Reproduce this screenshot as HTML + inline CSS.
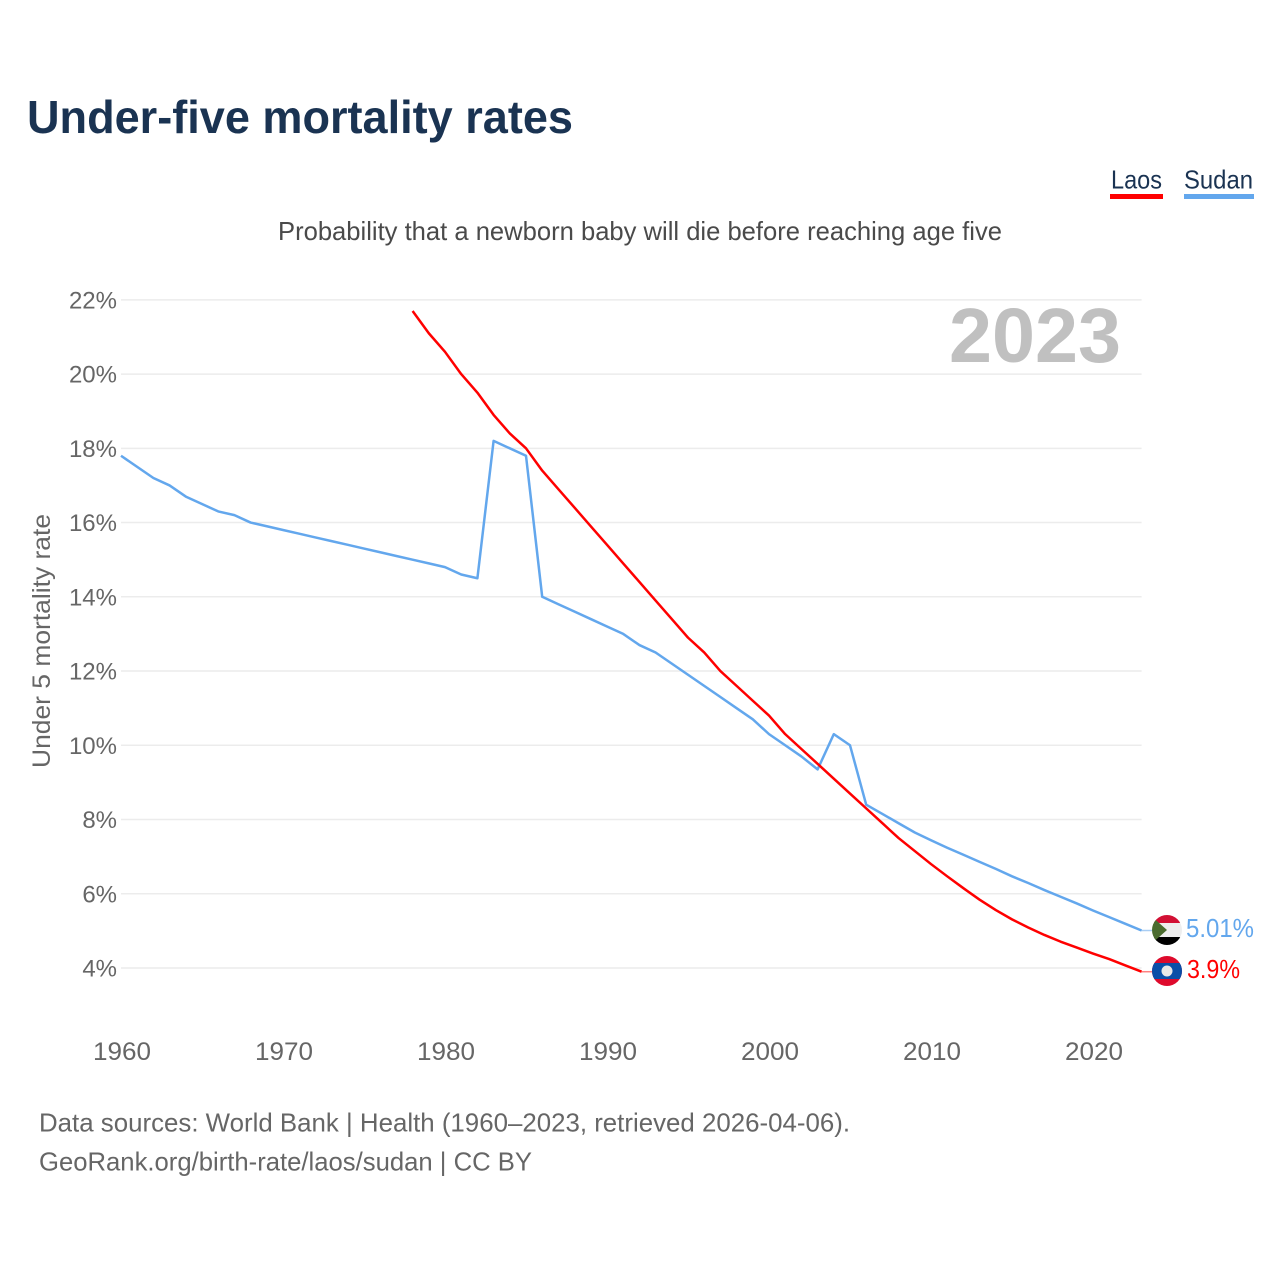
<!DOCTYPE html>
<html lang="en">
<head>
<meta charset="utf-8">
<title>Under-five mortality rates</title>
<style>
html,body{margin:0;padding:0;background:#fff;width:1280px;height:1280px;overflow:hidden}
svg{display:block}
text{font-family:"Liberation Sans",sans-serif}
</style>
</head>
<body>
<svg id="chart" xmlns="http://www.w3.org/2000/svg" width="1280" height="1280" viewBox="0 0 1280 1280">
<defs>
<clipPath id="flag-clip-sudan"><circle cx="1167" cy="930" r="15"/></clipPath>
<clipPath id="flag-clip-laos"><circle cx="1167" cy="971" r="15"/></clipPath>
</defs>
<rect x="0" y="0" width="1280" height="1280" fill="#fff"/>
<text x="27" y="133" font-size="46" font-weight="700" fill="#1a3352" textLength="546" lengthAdjust="spacingAndGlyphs">Under-five mortality rates</text>
<g>
<g>
<text x="1111" y="188.5" font-size="26" fill="#1a3352" textLength="51" lengthAdjust="spacingAndGlyphs">Laos</text>
<rect x="1110" y="194" width="53" height="5" fill="#ff0000"/>
</g>
<g>
<text x="1184" y="188.5" font-size="26" fill="#1a3352" textLength="69" lengthAdjust="spacingAndGlyphs">Sudan</text>
<rect x="1184" y="194" width="70" height="5" fill="#63a7ed"/>
</g>
</g>
<text x="278" y="240" font-size="26" fill="#4a4a4a" textLength="724" lengthAdjust="spacingAndGlyphs">Probability that a newborn baby will die before reaching age five</text>
<g id="grid"></g>
<g id="y-axis"></g>
<g id="x-axis"></g>
<text x="1121" y="362" text-anchor="end" font-size="77" font-weight="700" fill="#c0c0c0" textLength="172" lengthAdjust="spacingAndGlyphs">2023</text>
<text transform="translate(50,641) rotate(-90)" text-anchor="middle" font-size="25" fill="#666" textLength="254" lengthAdjust="spacingAndGlyphs">Under 5 mortality rate</text>
<g id="series"></g>
<g clip-path="url(#flag-clip-sudan)">
<rect x="1152" y="915" width="30" height="8" fill="#d21034"/>
<rect x="1152" y="923" width="30" height="14" fill="#eeeeee"/>
<rect x="1152" y="937" width="30" height="8" fill="#000"/>
<polygon points="1150,915 1167,930 1150,945" fill="#4a6b2e"/>
</g>
<g clip-path="url(#flag-clip-laos)">
<rect x="1152" y="956" width="30" height="30" fill="#de0a2c"/>
<rect x="1152" y="963" width="30" height="16" fill="#0a4fa8"/>
<circle cx="1167" cy="971" r="5.5" fill="#e8e8e8"/>
</g>
<text x="1186" y="937" font-size="26" fill="#63a7ed" textLength="68" lengthAdjust="spacingAndGlyphs">5.01%</text>
<text x="1187" y="978" font-size="26" fill="#ff0000" textLength="53" lengthAdjust="spacingAndGlyphs">3.9%</text>
<text x="39" y="1131.5" font-size="26" fill="#666" textLength="811" lengthAdjust="spacingAndGlyphs">Data sources: World Bank | Health (1960–2023, retrieved 2026-04-06).</text>
<text x="39" y="1170.5" font-size="26" fill="#666" textLength="493" lengthAdjust="spacingAndGlyphs">GeoRank.org/birth-rate/laos/sudan | CC BY</text>
</svg>
<script>
const yTicks = [22, 20, 18, 16, 14, 12, 10, 8, 6, 4];
const xTicks = [1960, 1970, 1980, 1990, 2000, 2010, 2020];
const sudanStartYear = 1960;
const sudanValues = [17.8,17.5,17.2,17.0,16.7,16.5,16.3,16.2,16.0,15.9,15.8,15.7,15.6,15.5,15.4,15.3,15.2,15.1,15.0,14.9,14.8,14.6,14.5,18.2,18.0,17.8,14.0,13.8,13.6,13.4,13.2,13.0,12.7,12.5,12.2,11.9,11.6,11.3,11.0,10.7,10.3,10.0,9.7,9.35,10.3,10.0,8.4,8.15,7.9,7.65,7.44,7.24,7.05,6.86,6.67,6.47,6.29,6.1,5.92,5.74,5.55,5.37,5.19,5.01];
const laosStartYear = 1978;
const laosValues = [21.7,21.1,20.6,20.0,19.5,18.9,18.4,18.0,17.4,16.9,16.4,15.9,15.4,14.9,14.4,13.9,13.4,12.9,12.5,12.0,11.6,11.2,10.8,10.3,9.9,9.5,9.1,8.7,8.3,7.9,7.5,7.15,6.8,6.47,6.15,5.84,5.56,5.31,5.09,4.89,4.71,4.55,4.39,4.24,4.07,3.9];

const NS = 'http://www.w3.org/2000/svg';
function xScale(year) { return 121 + (year - 1960) * 16.2; }
function yScale(value) { return 968 - (value - 4) * 37.12; }
const gridGroup = document.getElementById('grid');
const yAxisGroup = document.getElementById('y-axis');
const xAxisGroup = document.getElementById('x-axis');
const seriesGroup = document.getElementById('series');

yTicks.forEach(function (v) {
  const line = document.createElementNS(NS, 'line');
  line.setAttribute('x1', 121);
  line.setAttribute('x2', xScale(2023));
  line.setAttribute('y1', yScale(v));
  line.setAttribute('y2', yScale(v));
  line.setAttribute('stroke', '#ececec');
  line.setAttribute('stroke-width', 1.5);
  
  
  gridGroup.appendChild(line);
  const label = document.createElementNS(NS, 'text');
  label.setAttribute('x', 117);
  label.setAttribute('y', yScale(v) + 8.5);
  label.setAttribute('text-anchor', 'end');
  label.setAttribute('font-size', 24);
  label.setAttribute('fill', '#666');
  
  
  label.textContent = v + '%';
  yAxisGroup.appendChild(label);
});

xTicks.forEach(function (y) {
  const label = document.createElementNS(NS, 'text');
  label.setAttribute('x', xScale(y) - 28);
  label.setAttribute('y', 1060);
  label.setAttribute('font-size', 25);
  label.setAttribute('fill', '#666');
  label.setAttribute('textLength', 58);
  label.setAttribute('lengthAdjust', 'spacingAndGlyphs');
  
  
  label.textContent = y;
  xAxisGroup.appendChild(label);
});

function buildPoints(startYear, values) {
  return values.map(function (v, i) {
    return xScale(startYear + i).toFixed(2) + ',' + yScale(v).toFixed(2);
  });
}

const sudanLine = document.createElementNS(NS, 'polyline');
sudanLine.setAttribute('points', buildPoints(sudanStartYear, sudanValues).join(' '));
sudanLine.setAttribute('fill', 'none');
sudanLine.setAttribute('stroke', '#63a7ed');
sudanLine.setAttribute('stroke-width', 2.5);
sudanLine.setAttribute('stroke-linejoin', 'round');


seriesGroup.appendChild(sudanLine);

const laosLine = document.createElementNS(NS, 'polyline');
laosLine.setAttribute('points', buildPoints(laosStartYear, laosValues).join(' '));
laosLine.setAttribute('fill', 'none');
laosLine.setAttribute('stroke', '#ff0000');
laosLine.setAttribute('stroke-width', 2.5);
laosLine.setAttribute('stroke-linejoin', 'round');


seriesGroup.appendChild(laosLine);

const sudanLead = document.createElementNS(NS, 'line');
sudanLead.setAttribute('x1', xScale(2023));
sudanLead.setAttribute('x2', 1152);
sudanLead.setAttribute('y1', yScale(sudanValues[sudanValues.length - 1]));
sudanLead.setAttribute('y2', yScale(sudanValues[sudanValues.length - 1]));
sudanLead.setAttribute('stroke', '#a9cdf3');
sudanLead.setAttribute('stroke-width', 1.5);


seriesGroup.appendChild(sudanLead);

const laosLead = document.createElementNS(NS, 'line');
laosLead.setAttribute('x1', xScale(2023));
laosLead.setAttribute('x2', 1152);
laosLead.setAttribute('y1', yScale(laosValues[laosValues.length - 1]));
laosLead.setAttribute('y2', yScale(laosValues[laosValues.length - 1]));
laosLead.setAttribute('stroke', '#ff8080');
laosLead.setAttribute('stroke-width', 1.5);


seriesGroup.appendChild(laosLead);
</script>
</body>
</html>
